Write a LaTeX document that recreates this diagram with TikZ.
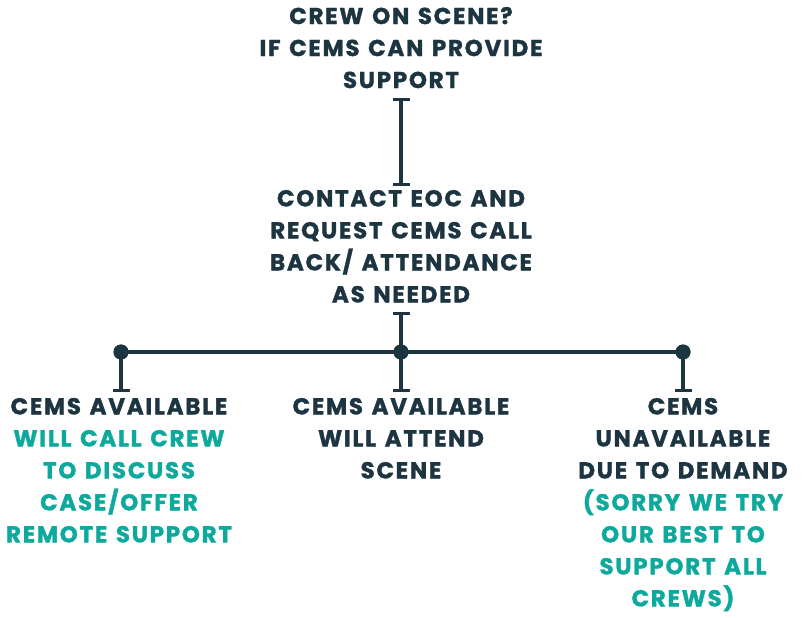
\documentclass[tikz,border=0pt]{standalone}
\usepackage{fontspec}
\setmainfont{Poppins}[LetterSpace=7.5, FakeBold=1.3, WordSpace=1.3]
\usetikzlibrary{arrows.meta}
\definecolor{navy}{HTML}{1D3441}
\definecolor{teal}{HTML}{0EA99D}
\tikzset{
  txt/.style={inner sep=0pt, outer sep=0pt, align=center, text=navy,
    font=\fontsize{23}{32}\bfseries\selectfont},
  conn/.style={draw=navy, line width=4pt},
  bar/.style={-{Bar[width=17pt,line width=3pt]}},
  dot/.style={circle, fill=navy, inner sep=0pt, minimum size=15pt},
}
\begin{document}
\begin{tikzpicture}[x=1pt,y=1pt]
\useasboundingbox (0,0) rectangle (806,-618);
\node[txt, anchor=north] (top) at (401,-7) {CREW ON SCENE?\\IF CEMS CAN PROVIDE\\SUPPORT};
\node[txt, anchor=north] (mid) at (401,-190) {CONTACT EOC AND\\REQUEST CEMS CALL\\BACK/ ATTENDANCE\\AS NEEDED};
\node[txt, anchor=north] (left) at (119,-398) {CEMS AVAILABLE\\\textcolor{teal}{WILL CALL CREW}\\\textcolor{teal}{TO DISCUSS}\\\textcolor{teal}{CASE/OFFER}\\\textcolor{teal}{REMOTE SUPPORT}};
\node[txt, anchor=north] (center) at (401,-398) {CEMS AVAILABLE\\WILL ATTEND\\SCENE};
\node[txt, anchor=north] (right) at (683,-398) {CEMS\\UNAVAILABLE\\DUE TO DEMAND\\\textcolor{teal}{(SORRY WE TRY}\\\textcolor{teal}{OUR BEST TO}\\\textcolor{teal}{SUPPORT ALL}\\\textcolor{teal}{CREWS)}};
\node[dot] (j1) at (121,-352) {};
\node[dot] (j2) at (401,-352) {};
\node[dot] (j3) at (683,-352) {};
\draw[conn, {Bar[width=17pt,line width=3pt]}-{Bar[width=17pt,line width=3pt]}] ([yshift=-9.5pt]top.south) -- ([yshift=4pt]mid.north);
\draw[conn, {Bar[width=17pt,line width=3pt]}-] ([yshift=-9pt]mid.south) -- (j2.center);
\draw[conn] (j1.center) -- (j2.center) -- (j3.center);
\draw[conn, bar] (j1.center) -- ([yshift=6.5pt]left.north -| j1);
\draw[conn, bar] (j2.center) -- ([yshift=6.5pt]center.north);
\draw[conn, bar] (j3.center) -- ([yshift=6.5pt]right.north);
\node[dot] at (j1) {};
\node[dot] at (j2) {};
\node[dot] at (j3) {};
\end{tikzpicture}
\end{document}
